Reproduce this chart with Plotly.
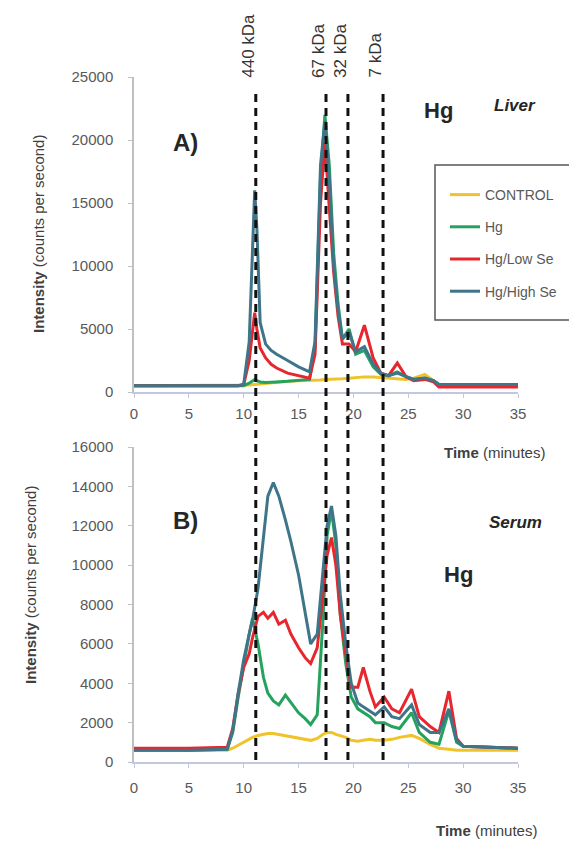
import plotly.graph_objects as go

# The page body has an 8px default margin, so the figure is drawn 8px in from the
# window's top-left corner; target coordinates below are window pixels.
OFF = 8
W, H = 577 - OFF, 846 - OFF

def px_x(p):
    return (p - OFF) / W

def px_y(p):
    return 1 - (p - OFF) / H

# ---------------- Data ----------------
series_names = ["CONTROL", "Hg", "Hg/Low Se", "Hg/High Se"]
series_colors = ["#f0c32a", "#25a35e", "#e8262d", "#3e7589"]

# Panel A: Liver
time_a = [0, 5, 9.5, 10, 10.5, 11, 11.2, 11.5, 12, 12.5, 13, 14, 15, 16, 16.5, 17,
          17.4, 17.8, 18.2, 18.6, 19, 19.6, 20.2, 21, 21.8, 22.5, 23.2, 24, 24.8,
          25.5, 26.5, 27.3, 27.8, 30, 35]
control_a = [500, 500, 500, 500, 550, 600, 620, 650, 700, 750, 800, 850, 900, 900, 950,
             950, 1000, 1000, 1000, 1050, 1050, 1100, 1150, 1200, 1200, 1150, 1100, 1050,
             1000, 1100, 1400, 900, 600, 600, 600]
hg_a = [500, 500, 500, 500, 700, 1000, 900, 800, 750, 750, 800, 850, 900, 1000, 3500,
        17000, 22000, 18000, 11000, 7000, 4200, 5000, 3000, 3300, 2000, 1400, 1300, 1600,
        1200, 1000, 1100, 900, 600, 600, 600]
lowse_a = [500, 500, 500, 600, 2500, 6300, 5000, 3500, 2700, 2200, 1900, 1500, 1300, 1100,
           3000, 15000, 19800, 15000, 9500, 6000, 3800, 3800, 3200, 5300, 2700, 1500, 1300,
           2300, 1200, 900, 1000, 800, 400, 400, 400]
highse_a = [500, 500, 500, 600, 4000, 16000, 13000, 5500, 3800, 3300, 3000, 2500, 2000,
            1600, 4000, 18000, 21500, 17000, 10000, 6500, 4200, 4800, 3200, 3600, 2200,
            1500, 1300, 1500, 1200, 1000, 1100, 900, 600, 600, 600]

# Panel B: Serum
time_b = [0, 5, 8.5, 9, 9.5, 10, 10.5, 10.8, 11.3, 11.8, 12.2, 12.7, 13.2, 13.8, 14.3,
          15, 15.6, 16.1, 16.7, 17.2, 17.6, 18, 18.4, 18.8, 19.3, 19.8, 20.4, 20.9, 21.5,
          22, 22.8, 23.5, 24.2, 25.3, 26, 27, 27.8, 28.7, 29.4, 30, 35]
control_b = [600, 600, 600, 700, 850, 1000, 1150, 1250, 1350, 1400, 1450, 1450, 1400, 1350,
             1300, 1200, 1150, 1100, 1200, 1400, 1500, 1500, 1400, 1350, 1250, 1100, 1050,
             1100, 1150, 1100, 1100, 1150, 1250, 1350, 1200, 900, 700, 650, 600, 600, 600]
hg_b = [600, 600, 650, 1500, 3300, 5000, 6500, 7300, 6000, 4300, 3500, 3100, 2900, 3400,
        3000, 2500, 2200, 1900, 2400, 7000, 11500, 12800, 11000, 7500, 5000, 3300, 2700,
        2500, 2300, 2000, 2000, 1800, 1700, 2500, 1500, 1000, 900, 2600, 1000, 800, 700]
lowse_b = [700, 700, 750, 1700, 3500, 4800, 5500, 6300, 7400, 7600, 7300, 7600, 7000, 7200,
           6500, 5800, 5300, 5000, 5800, 8500, 10500, 11400, 10000, 7500, 5500, 3800, 3800,
           4800, 3600, 2800, 3300, 2700, 2500, 3700, 2300, 1800, 1500, 3600, 1200, 800, 700]
highse_b = [600, 600, 650, 1600, 3500, 5200, 6500, 7200, 8800, 11500, 13500, 14200, 13500,
            12300, 11200, 9500, 7500, 6000, 6500, 9500, 12000, 13000, 11500, 8500, 6000,
            4000, 3000, 2800, 2600, 2400, 2800, 2300, 2200, 2900, 1900, 1500, 1500, 2700,
            1100, 800, 700]

# Molecular weight markers
marker_times = [11.1, 17.5, 19.5, 22.7]
marker_labels = ["440 kDa", "67 kDa", "32 kDa", "7 kDa"]

x_ticks = [0, 5, 10, 15, 20, 25, 30, 35]
y_ticks_a = [0, 5000, 10000, 15000, 20000, 25000]
y_ticks_b = [0, 2000, 4000, 6000, 8000, 10000, 12000, 14000, 16000]

# ---------------- Figure ----------------
fig = go.Figure()

panel_a = [control_a, hg_a, lowse_a, highse_a]
panel_b = [control_b, hg_b, lowse_b, highse_b]

for name, color, ys in zip(series_names, series_colors, panel_a):
    fig.add_trace(go.Scatter(x=time_a, y=ys, mode="lines", name=name,
                             line=dict(color=color, width=3),
                             legendgroup=name, showlegend=True,
                             xaxis="x", yaxis="y"))
for name, color, ys in zip(series_names, series_colors, panel_b):
    fig.add_trace(go.Scatter(x=time_b, y=ys, mode="lines", name=name,
                             line=dict(color=color, width=3),
                             legendgroup=name, showlegend=False,
                             xaxis="x2", yaxis="y2"))

tickfont = dict(family="Liberation Sans, Arial, sans-serif", size=15, color="#595959")
xdom = [px_x(134), px_x(518)]

common_x = dict(range=[0, 35], tickvals=x_ticks, showgrid=False, zeroline=False,
                showline=True, linecolor="#c3c8de", linewidth=1.5, ticks="outside",
                ticklen=4, tickcolor="#c3c8de", tickfont=tickfont, domain=xdom,
                fixedrange=True, automargin=False)
common_y = dict(showgrid=False, zeroline=False, showline=True, linecolor="#c0c0c0",
                linewidth=1.5, ticks="outside", ticklen=4, tickcolor="#c0c0c0",
                tickfont=tickfont, tickformat="d", ticklabelstandoff=12, fixedrange=True,
                automargin=False)

fig.update_layout(
    width=W, height=H,
    margin=dict(l=0, r=0, t=0, b=0, pad=0, autoexpand=False),
    paper_bgcolor="white", plot_bgcolor="white",
    font=dict(family="Liberation Sans, Arial, sans-serif", color="#262626"),
    xaxis=dict(**common_x, anchor="y", ticklabelstandoff=3),
    yaxis=dict(**common_y, range=[0, 25000], tickvals=y_ticks_a, anchor="x",
               domain=[px_y(392), px_y(77)]),
    xaxis2=dict(**common_x, anchor="y2", ticklabelstandoff=7),
    yaxis2=dict(**common_y, range=[0, 16000], tickvals=y_ticks_b, anchor="x2",
                domain=[px_y(762), px_y(447)]),
    legend=dict(x=px_x(445), y=px_y(179), xanchor="left", yanchor="top",
                bgcolor="rgba(0,0,0,0)", borderwidth=0, tracegroupgap=11,
                font=dict(family="Liberation Sans, Arial, sans-serif", size=14,
                          color="#595959")),
    showlegend=True,
)

# legend frame
fig.add_shape(type="rect", xref="paper", yref="paper",
              x0=px_x(435), x1=px_x(600), y0=px_y(320), y1=px_y(165),
              line=dict(color="#555555", width=1.5), fillcolor="rgba(0,0,0,0)")

# dashed marker lines
for t in marker_times:
    fig.add_shape(type="line", xref="x", yref="paper", x0=t, x1=t,
                  y0=px_y(760), y1=px_y(88),
                  line=dict(color="#111111", width=3, dash="8px,6px"))

for t, lab in zip(marker_times, marker_labels):
    fig.add_annotation(x=t, xref="x", y=px_y(80), yref="paper", text=lab,
                       textangle=-90, showarrow=False, xanchor="center",
                       yanchor="bottom", xshift=-8,
                       font=dict(size=17, color="#333333"))

ann = [
    ("<b>A)</b>", 185, 143, 24, "#262626"),
    ("<b>B)</b>", 185, 520, 24, "#262626"),
    ("<b>Hg</b>", 438, 111, 22, "#262626"),
    ("<b>Hg</b>", 458, 574, 22, "#262626"),
    ("<b><i>Liver</i></b>", 515, 105, 17, "#262626"),
    ("<b><i>Serum</i></b>", 515, 522, 17, "#262626"),
    ("<b>Time</b> (minutes)", 494, 452, 15, "#404040"),
    ("<b>Time</b> (minutes)", 486, 830, 15, "#404040"),
]
for txt, x, y, size, col in ann:
    fig.add_annotation(x=px_x(x), y=px_y(y), xref="paper", yref="paper", text=txt,
                       showarrow=False, xanchor="center", yanchor="middle",
                       font=dict(size=size, color=col))

for x, y in [(39, 234), (30, 585)]:
    fig.add_annotation(x=px_x(x), y=px_y(y), xref="paper", yref="paper",
                       text="<b>Intensity</b> (counts per second)", textangle=-90,
                       showarrow=False, xanchor="center", yanchor="middle",
                       font=dict(size=15, color="#404040"))

fig.write_html("out.html")
